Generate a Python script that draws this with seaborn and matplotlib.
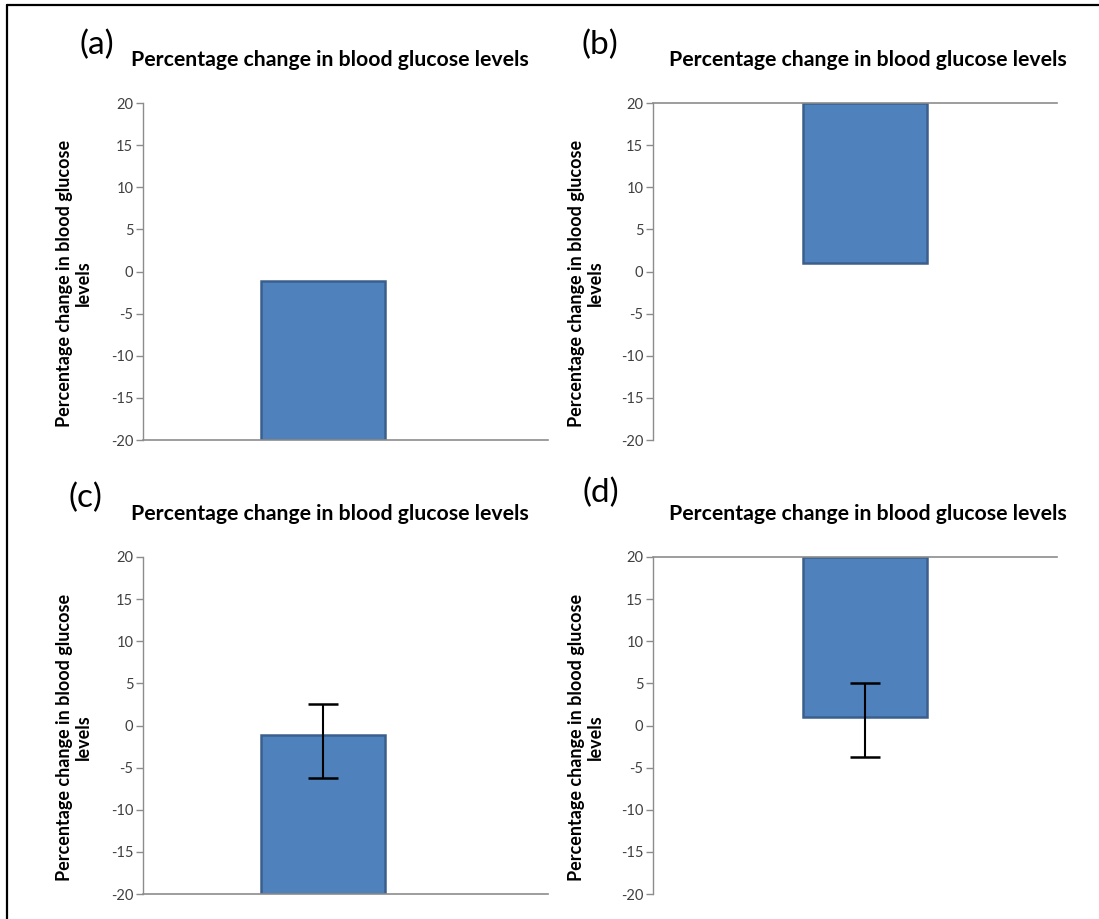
import matplotlib
matplotlib.use("Agg")
import matplotlib.pyplot as plt
import seaborn as sns
import pandas as pd
from matplotlib.lines import Line2D

# ---------------- data ----------------
panel_labels = ["(a)", "(b)", "(c)", "(d)"]
panel_title = "Percentage change in blood glucose levels"
y_label = "Percentage change in blood glucose\nlevels"
category = ["Group"]
bar_values = [-1.1, 1.0, -1.1, 1.0]
axis_cross = [-20, 20, -20, 20]          # where the horizontal axis crosses the y axis
err_upper = [None, None, 2.6, 5.1]
err_lower = [None, None, -6.2, -3.7]
y_ticks = [-20, -15, -10, -5, 0, 5, 10, 15, 20]

# ---------------- style ----------------
W, H = 1099, 919
sns.set_theme(style="white")
plt.rcParams["font.family"] = ["Lato", "DejaVu Sans"]

BAR_FACE = "#4F81BD"
BAR_EDGE = "#3A5F8C"
AXIS_GREY = "#8C8C8C"
TICK_TEXT = "#404040"

# axes boxes in pixels: (x0, y_top, x1, y_bottom)
boxes = [(143, 103, 548, 440), (653, 103, 1057, 440),
         (143, 557, 548, 894), (653, 557, 1057, 894)]
bar_centers = [323, 865, 323, 865]
bar_px = 124
label_pos = [(97, 45), (600, 45), (85, 498), (601, 493)]
title_pos = [(330, 60), (868, 60), (330, 514), (868, 514)]

fig = plt.figure(figsize=(W / 100, H / 100), dpi=100)
fig.patch.set_facecolor("white")

bar_width = 0.8
px_per_unit = bar_px / bar_width

for i in range(4):
    x0, yt, x1, yb = boxes[i]
    ax = fig.add_axes([x0 / W, 1 - yb / H, (x1 - x0) / W, (yb - yt) / H])
    base = axis_cross[i]
    df = pd.DataFrame({"cat": category, "height": [bar_values[i] - base]})
    sns.barplot(data=df, x="cat", y="height", bottom=base, width=bar_width,
                color=BAR_FACE, saturation=1, edgecolor=BAR_EDGE, linewidth=1.8,
                ax=ax)
    if err_upper[i] is not None:
        v = bar_values[i]
        ax.errorbar(0, v, yerr=[[v - err_lower[i]], [err_upper[i] - v]],
                    fmt="none", ecolor="black", elinewidth=1.5, capsize=10.5,
                    capthick=1.8, zorder=5)
    c = bar_centers[i]
    ax.set_xlim(-(c - x0) / px_per_unit, (x1 - c) / px_per_unit)
    ax.set_ylim(-20, 20)
    ax.set_yticks(y_ticks)
    ax.set_yticklabels([str(t) for t in y_ticks], fontsize=10.5, color=TICK_TEXT)
    ax.set_xticks([])
    ax.set_xlabel("")
    ax.set_ylabel("")
    ax.tick_params(axis="y", which="both", left=True, length=5, width=1,
                   color=AXIS_GREY, pad=2)
    ax.spines["right"].set_visible(False)
    ax.spines["left"].set_color(AXIS_GREY)
    ax.spines["left"].set_linewidth(1)
    if base < 0:
        ax.spines["top"].set_visible(False)
        ax.spines["bottom"].set_color(AXIS_GREY)
        ax.spines["bottom"].set_linewidth(1.2)
    else:
        ax.spines["bottom"].set_visible(False)
        ax.spines["top"].set_color(AXIS_GREY)
        ax.spines["top"].set_linewidth(1.2)
    ax.set_facecolor("white")

    # y-axis title
    ylx = 74 if i % 2 == 0 else 586
    fig.text(ylx / W, 1 - ((yt + yb) / 2 + 12) / H, y_label, rotation=90,
             ha="center", va="center", fontsize=13, fontweight="bold",
             color="black", linespacing=1.15, multialignment="center")
    # title and panel label
    tx, ty = title_pos[i]
    fig.text(tx / W, 1 - ty / H, panel_title, ha="center", va="center",
             fontsize=15.3, fontweight="bold", color="black")
    lx, ly = label_pos[i]
    fig.text(lx / W, 1 - ly / H, panel_labels[i], ha="center", va="center",
             fontsize=24, color="black")

# outer frame (left and top edges visible)
fig.add_artist(Line2D([7 / W, 7 / W], [0, 1 - 5 / H], color="black", lw=1.6))
fig.add_artist(Line2D([7 / W, 1], [1 - 5 / H, 1 - 5 / H], color="black", lw=1.6))

fig.savefig("out.png", dpi=100)
